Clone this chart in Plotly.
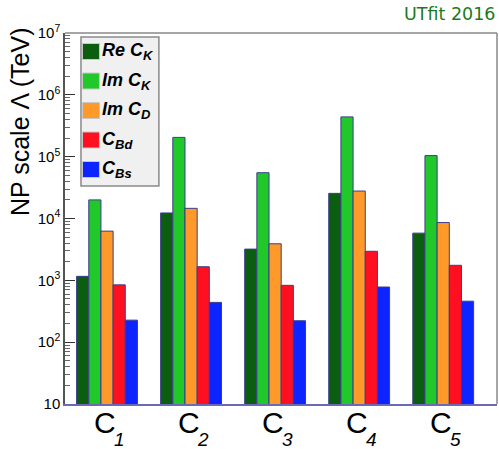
import plotly.graph_objects as go

categories = ["1", "2", "3", "4", "5"]
series_names = ["Re C<sub>K</sub>", "Im C<sub>K</sub>", "Im C<sub>D</sub>", "C<sub>Bd</sub>", "C<sub>Bs</sub>"]
re_ck = [1160, 12300, 3200, 25500, 5800]
im_ck = [20000, 205000, 55000, 440000, 104000]
im_cd = [6250, 14600, 3900, 27800, 8600]
c_bd = [845, 1660, 830, 2950, 1750]
c_bs = [227, 440, 222, 780, 460]
colors = ["#0b5e10", "#20c82a", "#ff9a2a", "#ff1020", "#0c24ff"]
ytick_vals = [10, 100, 1000, 10000, 100000, 1000000, 10000000]
ytick_text = ["10", "10<sup>2</sup>", "10<sup>3</sup>", "10<sup>4</sup>", "10<sup>5</sup>", "10<sup>6</sup>", "10<sup>7</sup>"]

series = [re_ck, im_ck, im_cd, c_bd, c_bs]

W, H = 499, 449
L, R, T, B = 65, 497.5, 33, 404

fig = go.Figure()
xs = list(range(len(categories)))
for name, vals, col in zip(series_names, series, colors):
    fig.add_trace(go.Bar(x=xs, y=vals, name=name,
                         marker=dict(color=col, line=dict(color="#3c3c8c", width=1)),
                         showlegend=False))

def px2paper(px, py):
    return (px - L) / (R - L), (B - py) / (B - T)

shapes = []
annotations = []
# legend box
x0, y0 = px2paper(81, 186)
x1, y1 = px2paper(159, 37)
shapes.append(dict(type="rect", xref="paper", yref="paper", x0=x0, y0=y0, x1=x1, y1=y1,
                   fillcolor="#f0f0f0", line=dict(color="#8a8a8a", width=1.5), layer="above"))
for i, (name, col) in enumerate(zip(series_names, colors)):
    top = 43.5 + i * 29.5
    sx0, sy0 = px2paper(82.5, top + 16)
    sx1, sy1 = px2paper(99.5, top)
    shapes.append(dict(type="rect", xref="paper", yref="paper", x0=sx0, y0=sy0, x1=sx1, y1=sy1,
                       fillcolor=col, line=dict(color="#c8c8c8", width=1), layer="above"))
    tx, ty = px2paper(100.5, top + 8)
    txt = name.replace("<sub>", "<sub><span style='font-size:13px'>").replace("</sub>", "</span></sub>")
    annotations.append(dict(xref="paper", yref="paper", x=tx, y=ty, xanchor="left", yanchor="middle",
                            text="<b><i>" + txt + "</i></b>", showarrow=False,
                            font=dict(family="Liberation Sans, Arial", size=18, color="black")))

# x category labels: big "C" with low italic subscript digit
for xi, c in zip(xs, categories):
    annotations.append(dict(xref="x", yref="paper", x=xi - 0.03, y=(B - 423) / (B - T),
                            xanchor="center", yanchor="middle", text="C", showarrow=False,
                            font=dict(family="Liberation Sans, Arial", size=30, color="black")))
    annotations.append(dict(xref="x", yref="paper", x=xi + 0.145, y=(B - 439) / (B - T),
                            xanchor="center", yanchor="middle", text="<i>" + c + "</i>", showarrow=False,
                            font=dict(family="Liberation Sans, Arial", size=19, color="black")))

annotations.append(dict(xref="paper", yref="paper", x=1.0, y=(B - 14) / (B - T), xanchor="right", yanchor="middle",
                        text="UTfit 2016", showarrow=False,
                        font=dict(family="DejaVu Sans, Noto Sans", size=17.5, color="#1b7a1b")))

annotations.append(dict(xref="paper", yref="paper", x=(20 - L) / (R - L), y=(B - 122) / (B - T),
                        xanchor="center", yanchor="middle", textangle=-90,
                        text="NP scale \u039b (TeV)", showarrow=False,
                        font=dict(family="Liberation Sans, Arial", size=25, color="black")))

fig.update_layout(
    width=W, height=H,
    margin=dict(l=L, r=W - R, t=T, b=H - B, pad=0, autoexpand=False),
    paper_bgcolor="white", plot_bgcolor="white",
    barmode="group", bargap=0.276, bargroupgap=0,
    shapes=shapes, annotations=annotations,
    showlegend=False,
)
fig.update_xaxes(range=[-0.5, 4.64], tickmode="array", tickvals=xs, showticklabels=False,
                 ticks="", showgrid=False, zeroline=False, automargin=False,
                 showline=True, linecolor="#6a6ab8", linewidth=1.5, mirror=False)
fig.update_yaxes(type="log", range=[1, 7], tickmode="array", tickvals=ytick_vals, ticktext=ytick_text,
                 tickfont=dict(family="Liberation Sans, Arial", size=15, color="black"),
                 ticks="inside", ticklen=10, tickcolor="#333", tickwidth=1,
                 minor=dict(ticks="inside", ticklen=5, tickcolor="#666", dtick="D1", showgrid=False),
                 showgrid=False, zeroline=False, showline=True, linecolor="#555", linewidth=1.5,
                 automargin=False)
shapes_frame = [
    dict(type="line", xref="paper", yref="paper", x0=0, y0=1, x1=1, y1=1, line=dict(color="#888", width=1.5)),
    dict(type="line", xref="paper", yref="paper", x0=1, y0=0, x1=1, y1=1, line=dict(color="#888", width=1.5)),
]
fig.update_layout(shapes=list(fig.layout.shapes) + shapes_frame)

fig.write_html("out.html")
